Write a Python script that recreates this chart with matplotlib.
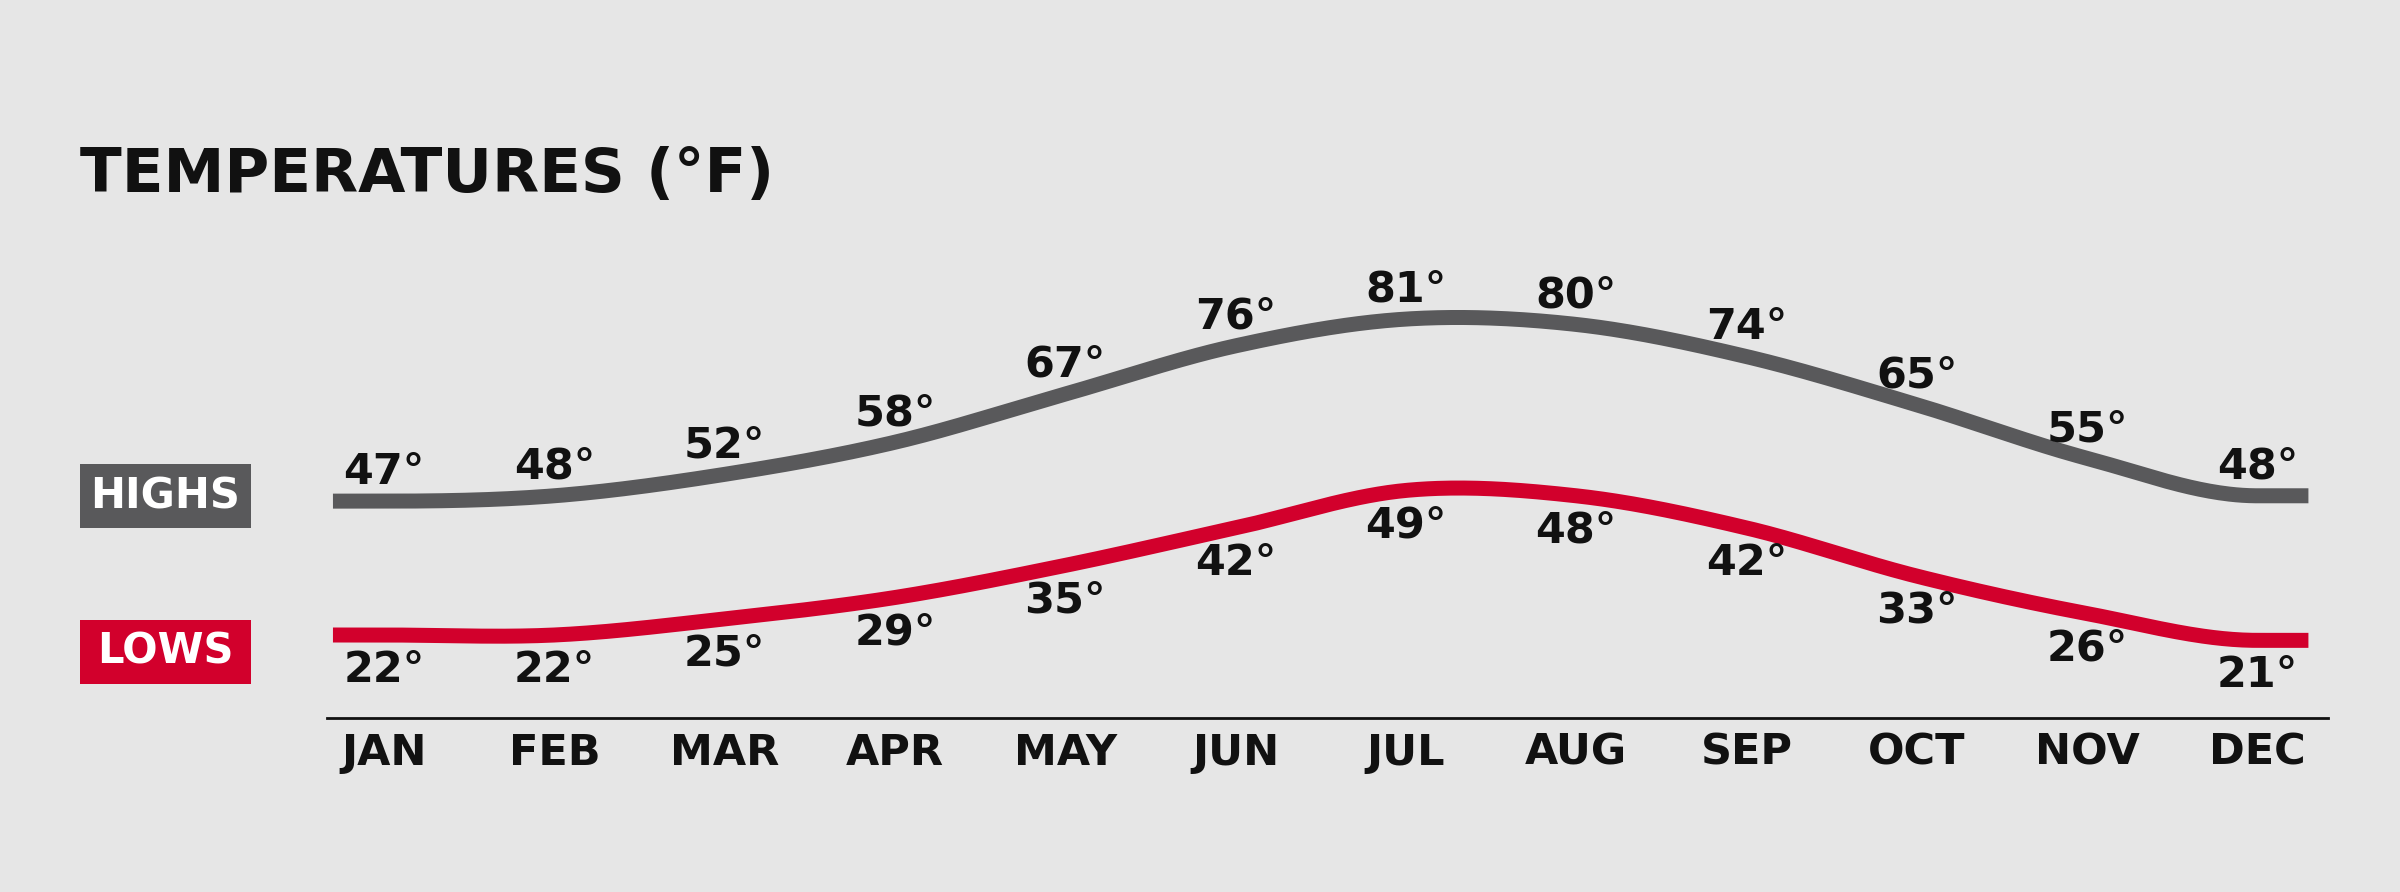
import numpy as np
import matplotlib.pyplot as plt
from matplotlib.patches import Rectangle

plt.rcParams['font.family'] = ['DejaVu Sans']

months = ["JAN", "FEB", "MAR", "APR", "MAY", "JUN", "JUL", "AUG", "SEP", "OCT", "NOV", "DEC"]
highs = [47, 48, 52, 58, 67, 76, 81, 80, 74, 65, 55, 48]
lows = [22, 22, 25, 29, 35, 42, 49, 48, 42, 33, 26, 21]

bg = "#e6e6e6"
gray = "#59595b"
red = "#d2002c"
ink = "#111111"
weight = "bold"


def smooth(ys, xd):
    # Catmull-Rom curve through the monthly values, held flat past the ends
    ys = np.asarray(ys, dtype=float)
    n = len(ys)
    m = np.empty(n)
    m[1:-1] = (ys[2:] - ys[:-2]) / 2
    m[0] = 0.0
    m[-1] = 0.0
    xc = np.clip(xd, 0, n - 1)
    i = np.minimum(np.floor(xc).astype(int), n - 2)
    t = xc - i
    h00 = 2 * t**3 - 3 * t**2 + 1
    h10 = t**3 - 2 * t**2 + t
    h01 = -2 * t**3 + 3 * t**2
    h11 = t**3 - t**2
    return h00 * ys[i] + h10 * m[i] + h01 * ys[i + 1] + h11 * m[i + 1]


fig = plt.figure(figsize=(24, 8.92), dpi=100, facecolor=bg)
ax = fig.add_axes([327 / 2400, 1 - 718 / 892, (2328 - 327) / 2400, (718 - 250) / 892])
ax.set_facecolor(bg)

x = np.arange(len(months))
xd = np.linspace(-0.3, 11.3, 600)
ax.plot(xd, smooth(highs, xd), color=gray, lw=10.8, solid_capstyle="butt")
ax.plot(xd, smooth(lows, xd), color=red, lw=10.8, solid_capstyle="butt")

for xi, v in zip(x, highs):
    ax.annotate(f"{v}°", (xi, v), xytext=(0, 21), textcoords="offset points",
                ha="center", va="center", fontsize=31, color=ink, fontweight=weight)
for xi, v in zip(x, lows):
    ax.annotate(f"{v}°", (xi, v), xytext=(0, -25), textcoords="offset points",
                ha="center", va="center", fontsize=31, color=ink, fontweight=weight)

ax.set_xlim(-0.335, 11.415)
ax.set_ylim(6.5, 93.9)
ax.set_xticks(x)
ax.set_xticklabels(months, fontsize=31, color=ink, fontweight=weight)
ax.tick_params(axis="x", length=0, pad=10)
ax.set_yticks([])
for s in ["top", "right", "left"]:
    ax.spines[s].set_visible(False)
ax.spines["bottom"].set_linewidth(2)
ax.spines["bottom"].set_color(ink)

fig.text(80 / 2400, 1 - 192 / 892, "TEMPERATURES (°F)", fontsize=44, color=ink,
         fontweight=weight, ha="left", va="baseline")

for label, col, top, bot in [("HIGHS", gray, 464, 528), ("LOWS", red, 620, 684)]:
    fig.add_artist(Rectangle((80 / 2400, 1 - bot / 892), (251 - 80) / 2400, (bot - top) / 892,
                             transform=fig.transFigure, facecolor=col, edgecolor="none"))
    fig.text(165.5 / 2400, 1 - (top + bot) / 2 / 892, label, fontsize=30, color="white",
             fontweight=weight, ha="center", va="center")

fig.savefig("out.png", dpi=100, facecolor=bg)
